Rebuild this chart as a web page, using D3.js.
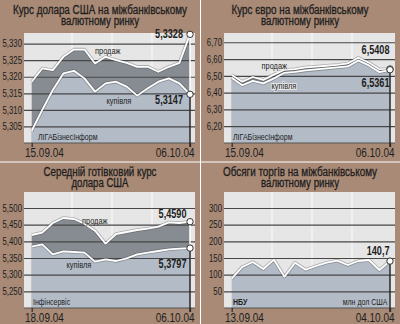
<!DOCTYPE html>
<html>
<head>
<meta charset="utf-8">
<script src="https://cdn.jsdelivr.net/npm/d3@7"></script>
<style>
  html, body { margin: 0; padding: 0; background: #a88a76; }
  svg { display: block; }
  text { font-family: "Liberation Sans", Arial, sans-serif; fill: #1e1e1e; }
</style>
</head>
<body>
<svg id="chart" width="400" height="324"></svg>
<script>
// ---- Interbank USD rate (UAH per USD) ----
const usdDates = ["15.09.04","16.09.04","17.09.04","20.09.04","21.09.04","22.09.04","23.09.04","24.09.04",
                  "27.09.04","28.09.04","29.09.04","30.09.04","01.10.04","04.10.04","05.10.04","06.10.04"];
const usdSell = [5.3185, 5.3225, 5.3220, 5.3260, 5.3282, 5.3282, 5.3240, 5.3260,
                 5.3250, 5.3242, 5.3230, 5.3230, 5.3215, 5.3230, 5.3242, 5.3328];
const usdBuy  = [5.3037, 5.3100, 5.3160, 5.3210, 5.3218, 5.3195, 5.3155, 5.3180,
                 5.3185, 5.3170, 5.3143, 5.3165, 5.3185, 5.3195, 5.3180, 5.3147];
const usdTicks = [5.305, 5.310, 5.315, 5.320, 5.325, 5.330];

// ---- Interbank EUR rate ----
const eurDates = usdDates;
const eurSell = [6.505, 6.465, 6.493, 6.476, 6.507, 6.536, 6.540, 6.550,
                 6.555, 6.560, 6.565, 6.574, 6.607, 6.578, 6.538, 6.5408];
const eurBuy  = [6.488, 6.444, 6.470, 6.455, 6.485, 6.518, 6.523, 6.532,
                 6.538, 6.544, 6.550, 6.556, 6.592, 6.562, 6.522, 6.5361];
const eurTicks = [6.20, 6.30, 6.40, 6.50, 6.60, 6.70];

// ---- Average cash USD rate ----
const cashDates = ["18.09.04","20.09.04","21.09.04","22.09.04","23.09.04","24.09.04","25.09.04","27.09.04",
                   "28.09.04","29.09.04","30.09.04","01.10.04","02.10.04","04.10.04","05.10.04","06.10.04"];
const cashSell = [5.419, 5.426, 5.455, 5.470, 5.467, 5.453, 5.432, 5.393,
                  5.422, 5.428, 5.434, 5.438, 5.444, 5.457, 5.455, 5.4590];
const cashBuy  = [5.384, 5.391, 5.361, 5.370, 5.368, 5.366, 5.339, 5.346,
                  5.341, 5.349, 5.361, 5.366, 5.371, 5.376, 5.378, 5.3797];
const cashTicks = [5.250, 5.300, 5.350, 5.400, 5.450, 5.500];

// ---- Interbank trading volume, mln USD ----
const volDates = ["13.09.04","14.09.04","15.09.04","16.09.04","17.09.04","20.09.04","21.09.04","22.09.04",
                  "23.09.04","24.09.04","27.09.04","28.09.04","29.09.04","30.09.04","01.10.04","04.10.04"];
const volume = [88, 123, 138, 117, 145, 94, 136, 115, 126, 136, 142, 129, 141, 144, 114, 140.7];
const volTicks = [50, 100, 150, 200, 250, 300];

const sellLabel = "продаж";
const buyLabel = "купівля";

const loc = d3.formatLocale({ decimal: ",", thousands: "\u00a0", grouping: [3], currency: ["", ""] });

const svg = d3.select("#chart");
svg.append("rect").attr("width", 400).attr("height", 324).attr("fill", "#a88a76");

// squeeze text to a condensed look (the installed sans faces are all normal width)
function fit(sel, w) {
  sel.attr("textLength", w).attr("lengthAdjust", "spacingAndGlyphs");
}
function narrow(sel, f) {
  sel.each(function () {
    const len = this.getComputedTextLength();
    d3.select(this).attr("textLength", len * f).attr("lengthAdjust", "spacingAndGlyphs");
  });
}
const NARROW = 0.78;

function drawPanel(p) {
  const g = svg.append("g").attr("transform", `translate(${p.ox},${p.oy})`);
  const L = 24, R = 195;
  const x = d3.scalePoint().domain(p.dates).range([31.7, 190]);
  const y = d3.scaleLinear().domain(p.domain).range([p.bottom, p.top]);

  // titles
  p.title.forEach((t, i) => {
    g.append("text").attr("x", 100).attr("y", p.titleY[i]).attr("text-anchor", "middle")
      .style("font-size", "12px").attr("stroke", "#1e1e1e").attr("stroke-width", 0.3)
      .text(t).call(fit, p.titleW[i]);
  });

  // plot background and light vertical bands
  g.append("rect").attr("x", L).attr("y", p.top).attr("width", R - L).attr("height", p.bottom - p.top)
    .attr("fill", "#e6e6e6");
  g.selectAll("line.vg").data([72, 112, 152]).join("line")
    .attr("x1", d => d).attr("x2", d => d).attr("y1", p.top).attr("y2", p.bottom)
    .attr("stroke", "#f7f7f7").attr("stroke-width", 1.3);

  // filled areas (first series drawn darker beneath the next)
  p.series.forEach((s, k) => {
    const area = d3.area().x((d, i) => x(p.dates[i])).y0(p.bottom).y1(d => y(d));
    g.append("path").datum(s).attr("d", area).attr("fill", p.fills[k]);
  });

  // horizontal grid with value labels
  const ax = d3.axisLeft(y).tickValues(p.ticks).tickSize(-(R - L)).tickPadding(2)
    .tickFormat(loc.format(p.tickFmt));
  const ag = g.append("g").attr("transform", `translate(${L},0)`).call(ax);
  ag.select(".domain").remove();
  ag.selectAll(".tick line").attr("stroke", "#474747").attr("stroke-width", 1.2);
  ag.selectAll(".tick text").style("font-size", "10px").attr("fill", "#1e1e1e")
    .style("font-family", "'Liberation Sans', Arial, sans-serif").call(narrow, NARROW);

  // bottom edge and ticks at first / last date
  g.append("line").attr("x1", L).attr("x2", R).attr("y1", p.bottom).attr("y2", p.bottom)
    .attr("stroke", "#555").attr("stroke-width", 1);
  const bx = d3.axisBottom(x).tickValues([p.dates[0], p.dates[p.dates.length - 1]]).tickSize(4).tickFormat("");
  const bg = g.append("g").attr("transform", `translate(0,${p.bottom})`).call(bx);
  bg.select(".domain").remove();
  bg.selectAll(".tick line").attr("stroke", "#333").attr("stroke-width", 1.3);

  // date labels
  g.append("text").attr("x", 25).attr("y", p.bottom + 13.5).style("font-size", "12px")
    .text(p.dates[0]).call(narrow, 0.83);
  g.append("text").attr("x", 194.5).attr("y", p.bottom + 13.5).attr("text-anchor", "end")
    .style("font-size", "12px").text(p.dates[p.dates.length - 1]).call(narrow, 0.83);

  // series lines
  p.series.forEach(s => {
    const line = d3.line().x((d, i) => x(p.dates[i])).y(d => y(d));
    g.append("path").datum(s).attr("d", line).attr("fill", "none")
      .attr("stroke", "rgba(60,60,60,0.35)").attr("stroke-width", 3.4).attr("stroke-linejoin", "round");
    g.append("path").datum(s).attr("d", line).attr("fill", "none")
      .attr("stroke", "#ffffff").attr("stroke-width", 1.8).attr("stroke-linejoin", "round");
  });

  // end markers
  const last = p.dates[p.dates.length - 1];
  const ends = p.series.map(s => s[s.length - 1]);
  const ys = ends.map(v => y(v));
  const yMax = d3.max(ys), yMin = d3.min(ys);
  if (ys.length > 1) {
    g.append("line").attr("x1", x(last)).attr("x2", x(last)).attr("y1", yMin).attr("y2", yMax)
      .attr("stroke", "#ffffff").attr("stroke-width", 1.5);
  }
  g.append("line").attr("x1", x(last)).attr("x2", x(last)).attr("y1", yMax).attr("y2", p.bottom + 4)
    .attr("stroke", "#2a2a2a").attr("stroke-width", 1.5);
  ends.forEach((v, k) => {
    g.append("circle").attr("cx", x(last)).attr("cy", y(v)).attr("r", 3.2)
      .attr("fill", "#ffffff").attr("stroke", "#333").attr("stroke-width", 1);
    g.append("text").attr("x", p.valX).attr("y", y(v) + p.valDy[k]).attr("text-anchor", "end")
      .style("font-size", "12px").style("font-weight", "bold").text(loc.format(p.valFmt)(v))
      .call(narrow, 0.76);
  });

  // series names
  (p.names || []).forEach(n => {
    const t = g.append("text").attr("x", n.x).attr("y", n.y).style("font-size", "9.5px").text(n.text);
    if (p.halo) t.style("paint-order", "stroke").attr("stroke", "#e6e6e6").attr("stroke-width", 2.2);
    t.call(narrow, NARROW);
  });

  // sources / notes
  (p.notes || []).forEach(n => {
    g.append("text").attr("x", n.x).attr("y", n.y).attr("text-anchor", n.anchor || "start")
      .style("font-size", "9px").style("font-weight", n.bold ? "bold" : "normal").text(n.text)
      .call(narrow, NARROW);
  });
}

drawPanel({
  ox: 0, oy: 0, top: 33, bottom: 143,
  title: ["Курс долара США на міжбанківському", "валютному ринку"], titleY: [13.6, 25], titleW: [174, 78],
  dates: usdDates, series: [usdSell, usdBuy], fills: ["#878c93", "#b2bbc6"],
  domain: [5.300, 5.3332], ticks: usdTicks, tickFmt: ".3f", valFmt: ".4f",
  valX: 183, valDy: [3.8, 10],
  names: [{ text: sellLabel, x: 95, y: 54 }, { text: buyLabel, x: 106.5, y: 104 }],
  notes: [{ text: "ЛІГАБізнесІнформ", x: 38, y: 139.5 }]
});

drawPanel({
  ox: 200, oy: 0, top: 33, bottom: 143,
  title: ["Курс євро на міжбанківському", "валютному ринку"], titleY: [13.6, 25], titleW: [137, 78],
  dates: eurDates, series: [eurSell, eurBuy], fills: ["#878c93", "#b2bbc6"],
  domain: [6.10, 6.755], ticks: eurTicks, tickFmt: ".2f", valFmt: ".4f",
  valX: 189.5, valDy: [-15, 17.5], halo: true,
  names: [{ text: sellLabel, x: 61.5, y: 69 }, { text: buyLabel, x: 71.5, y: 89 }],
  notes: [{ text: "ЛІГАБізнесІнформ", x: 33, y: 139.5 }]
});

drawPanel({
  ox: 0, oy: 162, top: 30, bottom: 146,
  title: ["Середній готівковий курс", "долара США"], titleY: [13.6, 25.4], titleW: [113, 57],
  dates: cashDates, series: [cashSell, cashBuy], fills: ["#878c93", "#b2bbc6"],
  domain: [5.20, 5.548], ticks: cashTicks, tickFmt: ".3f", valFmt: ".4f",
  valX: 186.5, valDy: [-3.5, 20.3],
  names: [{ text: sellLabel, x: 82, y: 62 }, { text: buyLabel, x: 66.5, y: 105.5 }],
  notes: [{ text: "Інфінсервіс", x: 33, y: 142.5 }]
});

drawPanel({
  ox: 200, oy: 162, top: 30, bottom: 146,
  title: ["Обсяги торгів на міжбанківському", "валютному ринку"], titleY: [13.6, 25.4], titleW: [154, 78],
  dates: volDates, series: [volume], fills: ["#b2bbc6"],
  domain: [0, 348], ticks: volTicks, tickFmt: "d", valFmt: ".1f",
  valX: 189.5, valDy: [-6.5],
  notes: [{ text: "НБУ", x: 33, y: 143, bold: true }, { text: "млн дол США", x: 187.5, y: 143, anchor: "end" }]
});

// panel separators
svg.append("rect").attr("x", 200).attr("y", 0).attr("width", 1).attr("height", 324).attr("fill", "#ffffff");
svg.append("rect").attr("x", 0).attr("y", 161.5).attr("width", 400).attr("height", 1).attr("fill", "#ffffff");
</script>
</body>
</html>
